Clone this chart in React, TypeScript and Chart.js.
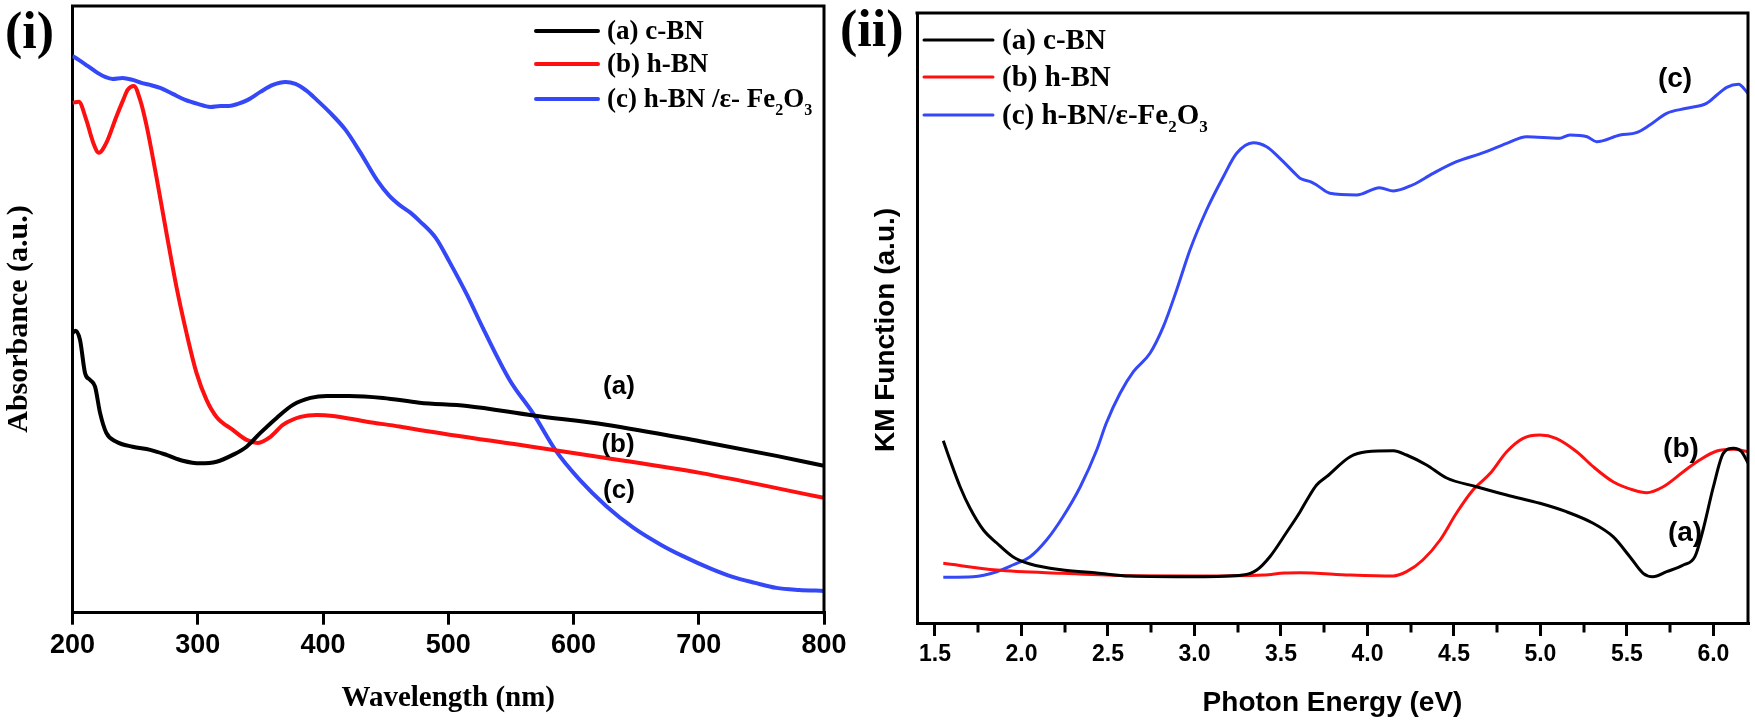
import React, { useEffect, useRef } from "react";
import { Chart, registerables } from "chart.js";

Chart.register(...registerables);

// ---------- Panel (i): UV-Vis absorbance ----------
const WAVELENGTH_TICKS = [200, 300, 400, 500, 600, 700, 800];

const CBN_UV_X = [200, 202.5, 206, 210, 214, 218, 222, 227, 235, 248, 262, 275, 288, 302, 315, 328, 339, 350, 363, 376, 390, 403, 421, 448, 477, 515, 568, 626, 701, 762, 800];
const CBN_UV_Y = [1.399, 1.41, 1.364, 1.199, 1.164, 1.13, 0.999, 0.899, 0.855, 0.83, 0.814, 0.789, 0.76, 0.747, 0.755, 0.789, 0.83, 0.899, 0.974, 1.039, 1.074, 1.084, 1.084, 1.074, 1.05, 1.034, 0.986, 0.94, 0.857, 0.784, 0.734];

const HBN_UV_X = [200, 205, 211, 216.6, 221, 227, 235, 240.5, 244, 249, 254, 259, 267, 275, 283, 291, 299, 307, 315, 328, 339, 348, 358, 368, 382, 395, 408, 435, 461, 477, 568, 626, 701, 800];
const HBN_UV_Y = [2.549, 2.555, 2.464, 2.349, 2.3, 2.349, 2.48, 2.564, 2.614, 2.634, 2.564, 2.439, 2.179, 1.899, 1.629, 1.399, 1.199, 1.064, 0.979, 0.914, 0.864, 0.849, 0.879, 0.939, 0.979, 0.989, 0.984, 0.955, 0.931, 0.914, 0.829, 0.774, 0.699, 0.574];

const HBNFE_UV_X = [200, 205, 212, 220, 226, 232, 240, 248, 255, 262, 270, 280, 290, 300, 310, 318, 325, 332, 340, 350, 360, 370, 378, 387, 395, 405, 418, 430, 443, 453, 461, 470, 477, 490, 501, 515, 528, 549, 568, 586, 605, 626, 648, 670, 687, 710, 727, 745, 762, 780, 800];
const HBNFE_UV_Y = [2.784, 2.764, 2.734, 2.699, 2.679, 2.669, 2.674, 2.664, 2.649, 2.639, 2.624, 2.594, 2.564, 2.544, 2.529, 2.534, 2.534, 2.544, 2.564, 2.604, 2.639, 2.654, 2.644, 2.609, 2.564, 2.504, 2.414, 2.299, 2.164, 2.084, 2.039, 1.999, 1.959, 1.874, 1.754, 1.589, 1.419, 1.164, 0.994, 0.809, 0.664, 0.534, 0.424, 0.339, 0.284, 0.219, 0.179, 0.149, 0.124, 0.114, 0.109];

// ---------- Panel (ii): KM function ----------
const ENERGY_TICKS = [1.5, 2.0, 2.5, 3.0, 3.5, 4.0, 4.5, 5.0, 5.5, 6.0];
const ENERGY_MINOR_TICKS = [1.75, 2.25, 2.75, 3.25, 3.75, 4.25, 4.75, 5.25, 5.75];

const CBN_KM_X = [1.548, 1.587, 1.645, 1.702, 1.78, 1.857, 1.95, 2.05, 2.24, 2.435, 2.627, 3.013, 3.28, 3.36, 3.436, 3.53, 3.61, 3.65, 3.706, 3.764, 3.9, 3.995, 4.15, 4.226, 4.342, 4.458, 4.63, 4.805, 4.997, 5.15, 5.305, 5.42, 5.517, 5.594, 5.65, 5.73, 5.826, 5.893, 5.94, 6.0, 6.057, 6.115, 6.163, 6.2];
const CBN_KM_Y = [0.9115, 0.815, 0.6815, 0.575, 0.465, 0.4, 0.3315, 0.295, 0.265, 0.25, 0.235, 0.2315, 0.24, 0.265, 0.3315, 0.45, 0.555, 0.615, 0.69, 0.7315, 0.8315, 0.8565, 0.8615, 0.84, 0.79, 0.725, 0.6815, 0.64, 0.5985, 0.5565, 0.4985, 0.4315, 0.3315, 0.2485, 0.2315, 0.2565, 0.29, 0.3315, 0.465, 0.6815, 0.8485, 0.8735, 0.8565, 0.8];

const HBN_KM_X = [1.548, 1.857, 2.24, 2.627, 3.013, 3.4, 3.52, 3.61, 3.9, 4.15, 4.226, 4.32, 4.42, 4.515, 4.61, 4.71, 4.805, 4.9, 4.997, 5.09, 5.21, 5.305, 5.42, 5.537, 5.613, 5.71, 5.826, 5.92, 6.02, 6.115, 6.2];
const HBN_KM_Y = [0.2985, 0.265, 0.2485, 0.2365, 0.235, 0.24, 0.25, 0.2515, 0.24, 0.235, 0.2565, 0.315, 0.415, 0.55, 0.665, 0.7485, 0.8565, 0.9235, 0.94, 0.9235, 0.8565, 0.7815, 0.7065, 0.665, 0.6515, 0.6815, 0.7565, 0.815, 0.86, 0.8685, 0.8565];

const HBNFE_KM_X = [1.548, 1.72, 1.857, 1.95, 2.05, 2.145, 2.24, 2.34, 2.435, 2.49, 2.57, 2.647, 2.743, 2.82, 2.897, 2.974, 3.07, 3.167, 3.244, 3.34, 3.417, 3.494, 3.59, 3.61, 3.67, 3.706, 3.783, 3.937, 4.07, 4.15, 4.26, 4.38, 4.515, 4.67, 4.805, 4.92, 5.11, 5.17, 5.27, 5.325, 5.46, 5.555, 5.632, 5.73, 5.845, 5.96, 6.02, 6.077, 6.145, 6.2];
const HBNFE_KM_Y = [0.2285, 0.2315, 0.2565, 0.29, 0.3315, 0.415, 0.5315, 0.6815, 0.865, 0.9985, 1.1485, 1.2565, 1.3485, 1.4815, 1.665, 1.865, 2.065, 2.2315, 2.3485, 2.4015, 2.3815, 2.3235, 2.24, 2.2235, 2.2065, 2.19, 2.1485, 2.14, 2.1765, 2.16, 2.19, 2.2485, 2.3065, 2.3515, 2.3985, 2.4315, 2.4235, 2.44, 2.4315, 2.4065, 2.44, 2.4515, 2.49, 2.5485, 2.5735, 2.5985, 2.64, 2.6785, 2.6935, 2.6485];

type Seg = { t: string; sub?: boolean };
const LEGEND_LEFT: Seg[][] = [
  [{ t: "(a) c-BN" }],
  [{ t: "(b) h-BN" }],
  [{ t: "(c) h-BN /\u03b5- Fe" }, { t: "2", sub: true }, { t: "O" }, { t: "3", sub: true }],
];
const LEGEND_RIGHT: Seg[][] = [
  [{ t: "(a) c-BN" }],
  [{ t: "(b) h-BN" }],
  [{ t: "(c) h-BN/\u03b5-Fe" }, { t: "2", sub: true }, { t: "O" }, { t: "3", sub: true }],
];

const SERIF = '"Liberation Serif", "Times New Roman", serif';
const SANS = '"Liberation Sans", Arial, sans-serif';
const BLACK = "#000000";
const RED = "#ff1010";
const BLUE = "#3448f7";
const SERIES_COLORS = [BLACK, RED, BLUE];

function pts(xs: number[], ys: number[]) {
  return xs.map((x, i) => ({ x, y: ys[i] }));
}

function drawRich(ctx: CanvasRenderingContext2D, segs: Seg[], x: number, baseline: number, size: number) {
  let cx = x;
  for (const s of segs) {
    const fs = s.sub ? Math.round(size * 0.58) : size;
    ctx.font = `bold ${fs}px ${SERIF}`;
    ctx.fillText(s.t, cx, s.sub ? baseline + size * 0.28 : baseline);
    cx += ctx.measureText(s.t).width;
  }
}

interface Decor {
  panelLabel: { text: string; x: number; baseline: number; size: number };
  legend: { x1: number; x2: number; textX: number; rows: number[]; size: number; lineWidth: number; items: Seg[][] };
  yTitle: { text: string; x: number; y: number; font: string };
  curveLabels: { text: string; x: number; y: number }[];
  curveLabelFont: string;
  frameWidth: number;
  minorTicks?: number[];
  minorLen?: number;
}

function decorPlugin(d: Decor) {
  return {
    id: "decor",
    afterDraw(chart: any) {
      const ctx: CanvasRenderingContext2D = chart.ctx;
      const a = chart.chartArea;
      ctx.save();
      // top & right frame
      ctx.strokeStyle = BLACK;
      ctx.lineWidth = d.frameWidth;
      ctx.beginPath();
      ctx.moveTo(a.left - d.frameWidth / 2, a.top);
      ctx.lineTo(a.right, a.top);
      ctx.lineTo(a.right, a.bottom + d.frameWidth / 2);
      ctx.stroke();
      // minor ticks
      if (d.minorTicks) {
        const xs = chart.scales.x;
        ctx.lineWidth = 3;
        for (const v of d.minorTicks) {
          const px = Math.round(xs.getPixelForValue(v));
          ctx.beginPath();
          ctx.moveTo(px, a.bottom);
          ctx.lineTo(px, a.bottom + 1.5 + (d.minorLen || 8));
          ctx.stroke();
        }
      }
      ctx.fillStyle = BLACK;
      // panel label
      ctx.textAlign = "left";
      ctx.textBaseline = "alphabetic";
      ctx.font = `bold ${d.panelLabel.size}px ${SERIF}`;
      ctx.fillText(d.panelLabel.text, d.panelLabel.x, d.panelLabel.baseline);
      // legend
      const L = d.legend;
      L.rows.forEach((ry, i) => {
        ctx.strokeStyle = SERIES_COLORS[i];
        ctx.lineWidth = L.lineWidth;
        ctx.lineCap = "round";
        ctx.beginPath();
        ctx.moveTo(L.x1, ry);
        ctx.lineTo(L.x2, ry);
        ctx.stroke();
        ctx.fillStyle = BLACK;
        drawRich(ctx, L.items[i], L.textX, ry + L.size * 0.31, L.size);
      });
      // y title
      ctx.save();
      ctx.translate(d.yTitle.x, d.yTitle.y);
      ctx.rotate(-Math.PI / 2);
      ctx.textAlign = "center";
      ctx.textBaseline = "middle";
      ctx.font = d.yTitle.font;
      ctx.fillText(d.yTitle.text, 0, 0);
      ctx.restore();
      // curve labels
      ctx.textAlign = "center";
      ctx.textBaseline = "middle";
      ctx.font = d.curveLabelFont;
      for (const c of d.curveLabels) ctx.fillText(c.text, c.x, c.y);
      ctx.restore();
    },
  };
}

function makeConfig(opts: {
  datasets: { xs: number[]; ys: number[]; color: string }[];
  lineWidth: number;
  xmin: number; xmax: number; ymax: number;
  ticks: number[];
  fmt: (v: number) => string;
  tickFont: number; tickLen: number; tickPad: number;
  xTitle: string; xTitleFont: any; xTitlePad: number;
  padding: any; yWidth: number; xHeight: number;
  decor: Decor;
}) {
  return {
    type: "line" as const,
    data: {
      datasets: opts.datasets.map((s) => ({
        data: pts(s.xs, s.ys),
        borderColor: s.color,
        backgroundColor: s.color,
        borderWidth: opts.lineWidth,
        pointRadius: 0,
        cubicInterpolationMode: "monotone" as const,
        fill: false,
      })),
    },
    options: {
      animation: false as const,
      responsive: false,
      maintainAspectRatio: false,
      events: [],
      layout: { padding: opts.padding },
      plugins: { legend: { display: false }, tooltip: { enabled: false }, title: { display: false } },
      scales: {
        x: {
          type: "linear" as const,
          position: "bottom" as const,
          min: opts.xmin,
          max: opts.xmax,
          afterBuildTicks: (scale: any) => {
            scale.ticks = opts.ticks.map((v) => ({ value: v }));
          },
          afterFit: (scale: any) => {
            scale.height = opts.xHeight;
            scale.paddingLeft = 0;
            scale.paddingRight = 0;
          },
          ticks: {
            autoSkip: false,
            maxRotation: 0,
            minRotation: 0,
            padding: opts.tickPad,
            color: BLACK,
            font: { family: SANS, size: opts.tickFont, weight: "bold" as const },
            callback: (v: any) => opts.fmt(Number(v)),
          },
          grid: {
            display: true,
            drawOnChartArea: false,
            drawTicks: true,
            tickLength: opts.tickLen,
            tickWidth: 3,
            tickColor: BLACK,
            color: BLACK,
            lineWidth: 3,
          },
          border: { display: true, color: BLACK, width: 3 },
          title: {
            display: true,
            text: opts.xTitle,
            color: BLACK,
            font: opts.xTitleFont,
            padding: { top: 0, bottom: opts.xTitlePad },
          },
        },
        y: {
          type: "linear" as const,
          position: "left" as const,
          min: 0,
          max: opts.ymax,
          afterFit: (scale: any) => {
            scale.width = opts.yWidth;
            scale.paddingTop = 0;
            scale.paddingBottom = 0;
          },
          ticks: { display: false },
          grid: { display: true, drawOnChartArea: false, drawTicks: false, color: BLACK, lineWidth: 3 },
          border: { display: true, color: BLACK, width: 3 },
          title: { display: false },
        },
      },
    },
    plugins: [decorPlugin(opts.decor)],
  };
}

const LEFT_W = 862;
const RIGHT_X = 840;
const RIGHT_W = 915;
const H = 728;

export default function App() {
  const leftRef = useRef<HTMLCanvasElement>(null);
  const rightRef = useRef<HTMLCanvasElement>(null);

  useEffect(() => {
    const left = new Chart(
      leftRef.current!,
      makeConfig({
        datasets: [
          { xs: CBN_UV_X, ys: CBN_UV_Y, color: BLACK },
          { xs: HBN_UV_X, ys: HBN_UV_Y, color: RED },
          { xs: HBNFE_UV_X, ys: HBNFE_UV_Y, color: BLUE },
        ],
        lineWidth: 4,
        xmin: 200,
        xmax: 800,
        ymax: 3.0335,
        ticks: WAVELENGTH_TICKS,
        fmt: (v) => String(Math.round(v)),
        tickFont: 27,
        tickLen: 12,
        tickPad: 5,
        xTitle: "Wavelength (nm)",
        xTitleFont: { family: SERIF, size: 29, weight: "bold" },
        xTitlePad: 12,
        padding: { left: 0, right: LEFT_W - 824, top: 6, bottom: 0 },
        yWidth: 72.5,
        xHeight: H - 612.7,
        decor: {
          panelLabel: { text: "(i)", x: 5, baseline: 48, size: 52 },
          legend: { x1: 536, x2: 598, textX: 607, rows: [31, 64, 99], size: 27, lineWidth: 4, items: LEGEND_LEFT },
          yTitle: { text: "Absorbance (a.u.)", x: 19, y: 319, font: `bold 30px ${SERIF}` },
          curveLabels: [
            { text: "(a)", x: 619, y: 387 },
            { text: "(b)", x: 618, y: 445 },
            { text: "(c)", x: 619, y: 491 },
          ],
          curveLabelFont: `bold 26px ${SANS}`,
          frameWidth: 3,
        },
      }) as any
    );
    const right = new Chart(
      rightRef.current!,
      makeConfig({
        datasets: [
          { xs: CBN_KM_X, ys: CBN_KM_Y, color: BLACK },
          { xs: HBN_KM_X, ys: HBN_KM_Y, color: RED },
          { xs: HBNFE_KM_X, ys: HBNFE_KM_Y, color: BLUE },
        ],
        lineWidth: 3,
        xmin: 1.396,
        xmax: 6.2,
        ymax: 3.05,
        ticks: ENERGY_TICKS,
        fmt: (v) => v.toFixed(1),
        tickFont: 23,
        tickLen: 13,
        tickPad: 5,
        xTitle: "Photon Energy (eV)",
        xTitleFont: { family: SANS, size: 28, weight: "bold" },
        xTitlePad: 8,
        padding: { left: 0, right: 7, top: 13, bottom: 0 },
        yWidth: 77,
        xHeight: H - 623,
        decor: {
          panelLabel: { text: "(ii)", x: 0, baseline: 46, size: 52 },
          legend: { x1: 84, x2: 153, textX: 162, rows: [40, 77, 115], size: 29, lineWidth: 3, items: LEGEND_RIGHT },
          yTitle: { text: "KM Function (a.u.)", x: 46, y: 330, font: `bold 28px ${SANS}` },
          curveLabels: [
            { text: "(c)", x: 835, y: 79 },
            { text: "(b)", x: 841, y: 449 },
            { text: "(a)", x: 845, y: 533 },
          ],
          curveLabelFont: `bold 28px ${SANS}`,
          frameWidth: 3,
          minorTicks: ENERGY_MINOR_TICKS,
          minorLen: 8,
        },
      }) as any
    );
    return () => {
      left.destroy();
      right.destroy();
    };
  }, []);

  return (
    <div style={{ position: "absolute", left: 0, top: 0, width: RIGHT_X + RIGHT_W, height: H, background: "#ffffff", overflow: "hidden" }}>
      <canvas
        ref={leftRef}
        width={LEFT_W}
        height={H}
        style={{ position: "absolute", left: 0, top: 0, width: LEFT_W, height: H }}
      />
      <canvas
        ref={rightRef}
        width={RIGHT_W}
        height={H}
        style={{ position: "absolute", left: RIGHT_X, top: 0, width: RIGHT_W, height: H }}
      />
    </div>
  );
}
